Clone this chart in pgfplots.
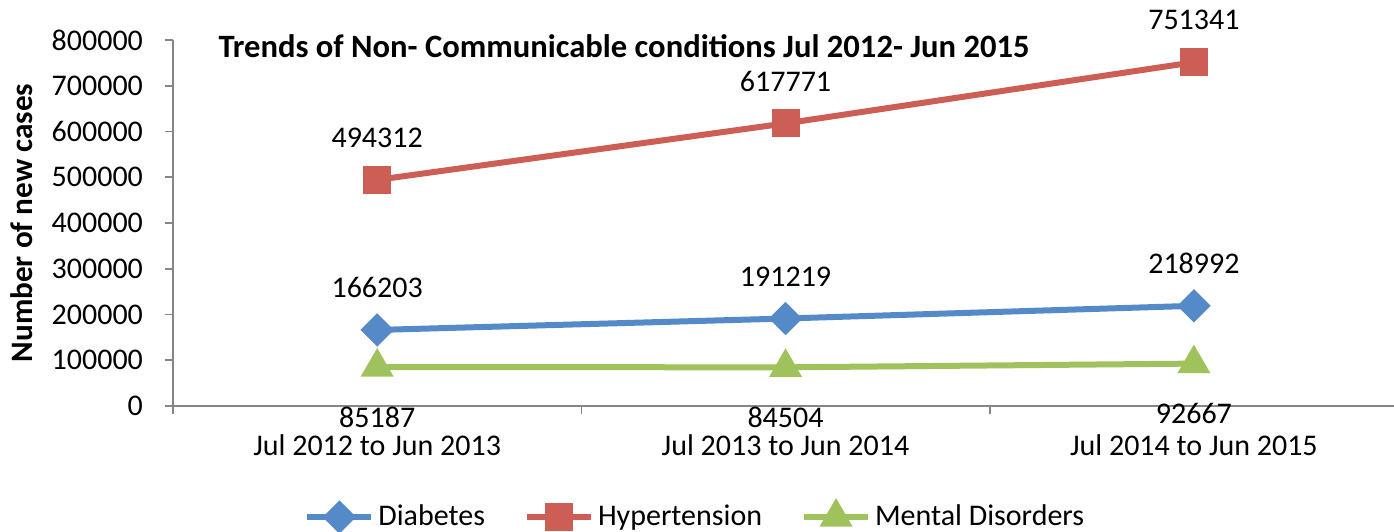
\documentclass[border=0pt]{standalone}
\usepackage{fontspec}
\setmainfont{Carlito}
\usepackage{pgfplots}
\pgfplotsset{compat=1.18}
\definecolor{cblue}{RGB}{84,138,200}
\definecolor{cred}{RGB}{205,94,86}
\definecolor{cgreen}{RGB}{160,194,92}
\definecolor{axgray}{RGB}{134,134,134}
\begin{document}
\begin{tikzpicture}
\useasboundingbox (-86.5pt,-62.5pt) rectangle (610.5pt,203pt);
\begin{axis}[
  scale only axis, width=610.5pt, height=183pt,
  xmin=-0.5, xmax=2.49, ymin=0, ymax=800000,
  clip=false,
  axis x line=bottom, axis y line=left,
  axis line style={-, axgray, line width=0.8pt},
  tick align=outside,
  xtick={0,1,2},
  xticklabels={Jul 2012 to Jun 2013, Jul 2013 to Jun 2014, Jul 2014 to Jun 2015},
  major x tick style={draw=none},
  minor xtick={-0.5,0.5,1.5},
  minor x tick style={axgray, line width=0.8pt},
  minor tick length=4pt,
  major tick length=4pt,
  ytick={0,100000,200000,300000,400000,500000,600000,700000,800000},
  y tick style={axgray, line width=0.8pt},
  scaled y ticks=false,
  /pgf/number format/fixed,
  /pgf/number format/1000 sep={},
  /pgf/number format/assume math mode=true,
  ticklabel style={font=\fontsize{15}{18}\selectfont, text=black},
  xticklabel style={anchor=center, yshift=-15.5pt},
  yticklabel style={anchor=east, xshift=-7.5pt},
  ylabel={\bfseries Number of new cases},
  ylabel style={at={(axis description cs:-0.1237,0.5)}, anchor=center, font=\fontsize{15.6}{18}\selectfont},
  legend columns=3,
  legend style={at={(axis description cs:0.1024,-0.3033)}, anchor=west, draw=none, fill=none,
    font=\fontsize{15}{18}\selectfont, /tikz/every even column/.append style={column sep=17.5pt}},
  legend image code/.code={\draw[mark repeat=2,mark phase=2] plot coordinates {(0pt,0pt)(16pt,0pt)(32pt,0pt)};},
  point meta=explicit symbolic,
  nodes near coords,
  every node near coord/.append style={font=\fontsize{15}{18}\selectfont, text=black, anchor=center},
]
\addplot[cblue, line width=3pt, mark=square*, mark size=4.4pt, mark options={rotate=45},
  every node near coord/.append style={yshift=21pt}]
  coordinates {(0,166203)[166203] (1,191219)[191219] (2,218992)[218992]};
\addlegendentry{Diabetes}
\addplot[cred, line width=3pt, mark=square*, mark size=5.5pt,
  every node near coord/.append style={yshift=21pt}]
  coordinates {(0,494312)[494312] (1,617771)[617771] (2,751341)[751341]};
\addlegendentry{Hypertension}
\addplot[cgreen, line width=3pt, mark=triangle*, mark size=6.5pt,
  every node near coord/.append style={yshift=-25pt}]
  coordinates {(0,85187)[85187] (1,84504)[84504] (2,92667)[92667]};
\addlegendentry{Mental Disorders}
\node[anchor=west, font=\bfseries\fontsize{16.3}{19}\selectfont] at (axis description cs:0.0315,0.9836)
  {Trends of Non- Communicable conditions Jul 2012- Jun 2015};
\end{axis}
\end{tikzpicture}
\end{document}
